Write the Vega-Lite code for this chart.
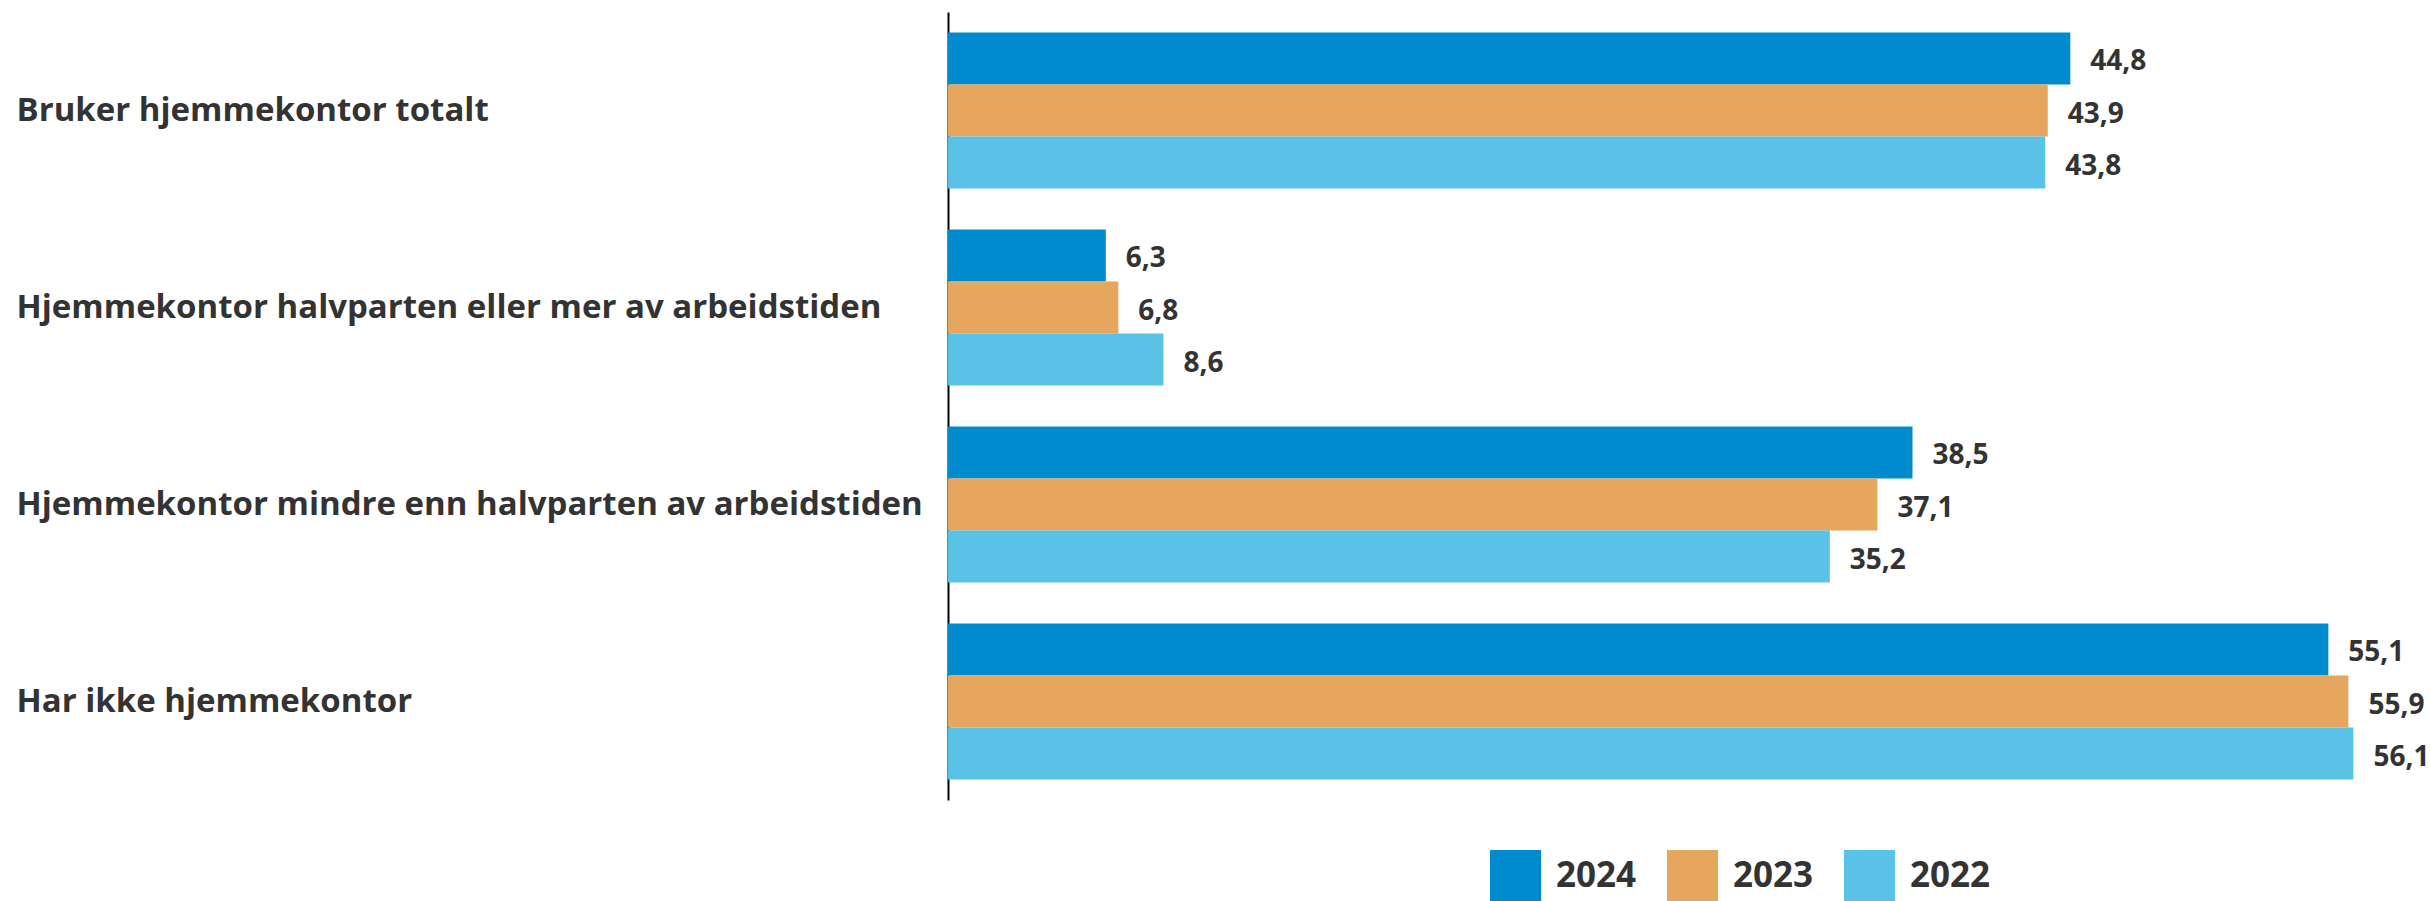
{
  "$schema": "https://vega.github.io/schema/vega-lite/v6.json",
  "width": 1453,
  "height": 788,
  "autosize": {"type": "none"},
  "padding": {"left": 948, "top": 12, "right": 29, "bottom": 101},
  "background": "white",
  "config": {
    "view": {"stroke": null},
    "locale": {"number": {"decimal": ",", "thousands": " ", "grouping": [3], "currency": ["", " kr"]}},
    "font": "Open Sans"
  },
  "data": {
    "values": [
      {"kategori": "Bruker hjemmekontor totalt", "år": "2024", "andel": 44.8},
      {"kategori": "Bruker hjemmekontor totalt", "år": "2023", "andel": 43.9},
      {"kategori": "Bruker hjemmekontor totalt", "år": "2022", "andel": 43.8},
      {"kategori": "Hjemmekontor halvparten eller mer av arbeidstiden", "år": "2024", "andel": 6.3},
      {"kategori": "Hjemmekontor halvparten eller mer av arbeidstiden", "år": "2023", "andel": 6.8},
      {"kategori": "Hjemmekontor halvparten eller mer av arbeidstiden", "år": "2022", "andel": 8.6},
      {"kategori": "Hjemmekontor mindre enn halvparten av arbeidstiden", "år": "2024", "andel": 38.5},
      {"kategori": "Hjemmekontor mindre enn halvparten av arbeidstiden", "år": "2023", "andel": 37.1},
      {"kategori": "Hjemmekontor mindre enn halvparten av arbeidstiden", "år": "2022", "andel": 35.2},
      {"kategori": "Har ikke hjemmekontor", "år": "2024", "andel": 55.1},
      {"kategori": "Har ikke hjemmekontor", "år": "2023", "andel": 55.9},
      {"kategori": "Har ikke hjemmekontor", "år": "2022", "andel": 56.1}
    ]
  },
  "encoding": {
    "y": {
      "field": "kategori",
      "type": "nominal",
      "sort": null,
      "scale": {"paddingInner": 0.208, "paddingOuter": 0.104},
      "axis": {
        "title": null,
        "ticks": false,
        "labelAlign": "left",
        "labelPadding": 932,
        "labelFont": "Open Sans",
        "labelFontWeight": "bold",
        "labelFontSize": 33,
        "labelColor": "#333333",
        "labelLimit": 0,
        "domainColor": "#000000",
        "domainWidth": 2
      }
    },
    "yOffset": {
      "field": "år",
      "type": "nominal",
      "sort": ["2024", "2023", "2022"],
      "scale": {"paddingInner": 0, "paddingOuter": 0}
    },
    "x": {
      "field": "andel",
      "type": "quantitative",
      "scale": {"domain": [0, 58], "nice": false},
      "axis": null
    }
  },
  "layer": [
    {
      "mark": {"type": "bar"},
      "encoding": {
        "color": {
          "field": "år",
          "type": "nominal",
          "scale": {"domain": ["2024", "2023", "2022"], "range": ["#008BCF", "#E6A65E", "#5BC2E7"]},
          "legend": {
            "title": null,
            "orient": "none",
            "legendX": 542,
            "legendY": 838,
            "direction": "horizontal",
            "padding": 0,
            "symbolType": "square",
            "symbolSize": 2601,
            "symbolStrokeWidth": 0,
            "labelFont": "Open Sans",
            "labelFontWeight": "bold",
            "labelFontSize": 35,
            "labelColor": "#333333",
            "labelOffset": 15,
            "columnPadding": 30
          }
        }
      }
    },
    {
      "mark": {
        "type": "text",
        "align": "left",
        "baseline": "middle",
        "dx": 20,
        "dy": 4,
        "font": "Open Sans",
        "fontWeight": "bold",
        "fontSize": 28,
        "color": "#333333"
      },
      "encoding": {
        "text": {"field": "andel", "type": "quantitative", "format": ".1f"}
      }
    }
  ]
}
